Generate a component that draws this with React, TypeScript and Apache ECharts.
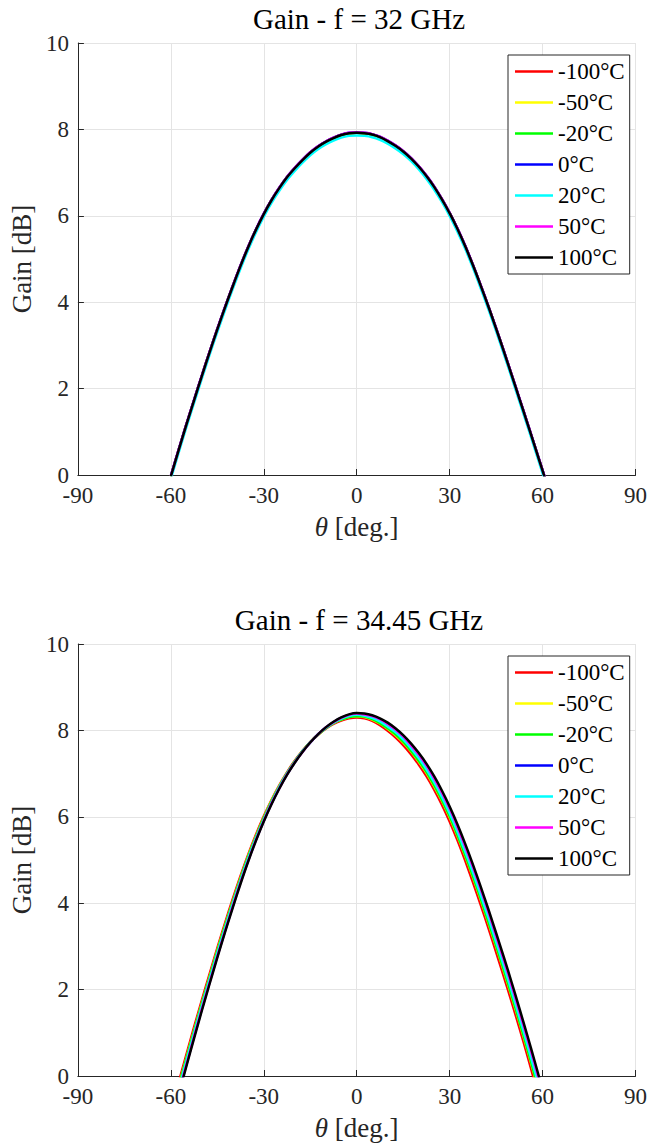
import React, { useEffect, useRef } from "react";
import * as echarts from "echarts";

// theta grid: -60 .. 65 deg, every 2.5 deg
const THETA = [-60, -57.5, -55, -52.5, -50, -47.5, -45, -42.5, -40, -37.5, -35, -32.5, -30, -27.5, -25, -22.5, -20, -17.5, -15, -12.5, -10, -7.5, -5, -2.5, 0, 2.5, 5, 7.5, 10, 12.5, 15, 17.5, 20, 22.5, 25, 27.5, 30, 32.5, 35, 37.5, 40, 42.5, 45, 47.5, 50, 52.5, 55, 57.5, 60, 62.5, 65];

const SERIES_NAMES = ["-100°C", "-50°C", "-20°C", "0°C", "20°C", "50°C", "100°C"];
const SERIES_COLORS = ["#ff0000", "#ffff00", "#00ff00", "#0000ff", "#00ffff", "#ff00ff", "#000000"];

const TITLES = ["Gain - f = 32 GHz", "Gain - f = 34.45 GHz"];
const X_TICKS = [-90, -60, -30, 0, 30, 60, 90];
const Y_TICKS = [0, 2, 4, 6, 8, 10];

// f = 32 GHz
const TOP_M100 = [-0.03, 0.57, 1.16, 1.73, 2.29, 2.84, 3.37, 3.88, 4.37, 4.84, 5.28, 5.68, 6.04, 6.36, 6.64, 6.89, 7.10, 7.29, 7.46, 7.60, 7.71, 7.80, 7.87, 7.91, 7.92, 7.91, 7.88, 7.82, 7.73, 7.62, 7.49, 7.33, 7.14, 6.92, 6.67, 6.38, 6.06, 5.70, 5.30, 4.86, 4.39, 3.90, 3.39, 2.86, 2.32, 1.77, 1.22, 0.66, 0.10, -0.47, -1.04];
const TOP_M50 = [-0.03, 0.57, 1.16, 1.73, 2.29, 2.84, 3.37, 3.88, 4.37, 4.84, 5.28, 5.68, 6.04, 6.36, 6.64, 6.89, 7.10, 7.29, 7.46, 7.60, 7.71, 7.80, 7.87, 7.91, 7.92, 7.91, 7.88, 7.82, 7.73, 7.62, 7.49, 7.33, 7.14, 6.92, 6.67, 6.38, 6.06, 5.70, 5.30, 4.86, 4.39, 3.90, 3.39, 2.86, 2.32, 1.77, 1.22, 0.66, 0.10, -0.47, -1.04];
const TOP_M20 = [-0.03, 0.57, 1.16, 1.73, 2.29, 2.84, 3.37, 3.88, 4.37, 4.84, 5.28, 5.68, 6.04, 6.36, 6.64, 6.89, 7.10, 7.29, 7.46, 7.60, 7.71, 7.80, 7.87, 7.91, 7.92, 7.91, 7.88, 7.82, 7.73, 7.62, 7.49, 7.33, 7.14, 6.92, 6.67, 6.38, 6.06, 5.70, 5.30, 4.86, 4.39, 3.90, 3.39, 2.86, 2.32, 1.77, 1.22, 0.66, 0.10, -0.47, -1.04];
const TOP_0 = [-0.02, 0.58, 1.17, 1.74, 2.30, 2.85, 3.38, 3.89, 4.38, 4.85, 5.29, 5.69, 6.05, 6.37, 6.65, 6.90, 7.11, 7.30, 7.47, 7.61, 7.72, 7.81, 7.88, 7.92, 7.93, 7.92, 7.89, 7.83, 7.74, 7.63, 7.50, 7.34, 7.15, 6.93, 6.68, 6.39, 6.07, 5.71, 5.31, 4.87, 4.40, 3.91, 3.40, 2.87, 2.33, 1.78, 1.23, 0.67, 0.11, -0.46, -1.03];
const TOP_20 = [-0.09, 0.51, 1.10, 1.67, 2.23, 2.78, 3.31, 3.82, 4.31, 4.78, 5.22, 5.62, 5.98, 6.30, 6.58, 6.83, 7.04, 7.23, 7.40, 7.54, 7.65, 7.74, 7.81, 7.85, 7.86, 7.85, 7.82, 7.76, 7.67, 7.56, 7.43, 7.27, 7.08, 6.86, 6.61, 6.32, 6.00, 5.64, 5.24, 4.80, 4.33, 3.84, 3.33, 2.80, 2.26, 1.71, 1.16, 0.60, 0.04, -0.53, -1.10];
const TOP_50 = [-0.02, 0.58, 1.17, 1.74, 2.30, 2.85, 3.38, 3.89, 4.38, 4.85, 5.29, 5.69, 6.05, 6.37, 6.65, 6.90, 7.11, 7.30, 7.47, 7.61, 7.72, 7.81, 7.88, 7.92, 7.93, 7.92, 7.89, 7.83, 7.74, 7.63, 7.50, 7.34, 7.15, 6.93, 6.68, 6.39, 6.07, 5.71, 5.31, 4.87, 4.40, 3.91, 3.40, 2.87, 2.33, 1.78, 1.23, 0.67, 0.11, -0.46, -1.03];
const TOP_100 = [-0.03, 0.57, 1.16, 1.73, 2.29, 2.84, 3.37, 3.88, 4.37, 4.84, 5.28, 5.68, 6.04, 6.36, 6.64, 6.89, 7.10, 7.29, 7.46, 7.60, 7.71, 7.80, 7.87, 7.91, 7.92, 7.91, 7.88, 7.82, 7.73, 7.62, 7.49, 7.33, 7.14, 6.92, 6.67, 6.38, 6.06, 5.70, 5.30, 4.86, 4.39, 3.90, 3.39, 2.86, 2.32, 1.77, 1.22, 0.66, 0.10, -0.47, -1.04];

// f = 34.45 GHz
const BOT_M100 = [-0.82, -0.16, 0.49, 1.13, 1.75, 2.36, 2.96, 3.54, 4.10, 4.63, 5.13, 5.59, 6.01, 6.39, 6.73, 7.03, 7.30, 7.53, 7.73, 7.90, 8.04, 8.15, 8.23, 8.28, 8.30, 8.28, 8.22, 8.12, 7.99, 7.84, 7.66, 7.45, 7.21, 6.94, 6.63, 6.28, 5.89, 5.46, 4.99, 4.49, 3.97, 3.43, 2.87, 2.30, 1.72, 1.12, 0.50, -0.15, -0.81, -1.49, -2.19];
const BOT_M50 = [-0.90, -0.24, 0.41, 1.05, 1.68, 2.29, 2.90, 3.48, 4.04, 4.58, 5.09, 5.55, 5.98, 6.37, 6.71, 7.01, 7.28, 7.52, 7.73, 7.90, 8.05, 8.17, 8.25, 8.31, 8.33, 8.31, 8.25, 8.16, 8.04, 7.89, 7.72, 7.52, 7.28, 7.02, 6.71, 6.37, 5.99, 5.56, 5.10, 4.61, 4.09, 3.55, 3.00, 2.43, 1.85, 1.25, 0.63, -0.01, -0.67, -1.35, -2.05];
const BOT_M20 = [-0.91, -0.25, 0.40, 1.04, 1.67, 2.28, 2.89, 3.47, 4.03, 4.57, 5.08, 5.54, 5.97, 6.36, 6.70, 7.01, 7.28, 7.52, 7.73, 7.90, 8.05, 8.17, 8.25, 8.31, 8.33, 8.32, 8.26, 8.17, 8.05, 7.91, 7.74, 7.53, 7.30, 7.04, 6.73, 6.39, 6.01, 5.58, 5.12, 4.63, 4.11, 3.57, 3.02, 2.45, 1.87, 1.27, 0.65, 0.01, -0.65, -1.33, -2.03];
const BOT_0 = [-1.04, -0.38, 0.27, 0.92, 1.56, 2.18, 2.78, 3.37, 3.94, 4.49, 5.00, 5.48, 5.91, 6.31, 6.67, 6.98, 7.26, 7.51, 7.72, 7.91, 8.06, 8.19, 8.29, 8.35, 8.38, 8.37, 8.32, 8.25, 8.14, 8.01, 7.84, 7.65, 7.43, 7.17, 6.88, 6.54, 6.17, 5.76, 5.30, 4.82, 4.31, 3.77, 3.22, 2.66, 2.08, 1.48, 0.87, 0.23, -0.42, -1.09, -1.79];
const BOT_20 = [-0.97, -0.31, 0.34, 0.99, 1.62, 2.23, 2.84, 3.42, 3.99, 4.53, 5.04, 5.51, 5.94, 6.33, 6.69, 7.00, 7.27, 7.51, 7.72, 7.91, 8.06, 8.18, 8.27, 8.33, 8.36, 8.34, 8.29, 8.21, 8.09, 7.96, 7.79, 7.59, 7.36, 7.10, 6.80, 6.46, 6.08, 5.66, 5.20, 4.72, 4.20, 3.67, 3.11, 2.55, 1.97, 1.37, 0.75, 0.11, -0.54, -1.21, -1.91];
const BOT_50 = [-1.06, -0.40, 0.26, 0.91, 1.55, 2.16, 2.77, 3.36, 3.93, 4.48, 4.99, 5.47, 5.91, 6.31, 6.66, 6.98, 7.26, 7.50, 7.72, 7.91, 8.07, 8.19, 8.29, 8.36, 8.39, 8.37, 8.33, 8.26, 8.15, 8.02, 7.86, 7.66, 7.44, 7.19, 6.89, 6.56, 6.19, 5.77, 5.32, 4.84, 4.33, 3.80, 3.24, 2.68, 2.10, 1.50, 0.89, 0.26, -0.39, -1.06, -1.76];
const BOT_100 = [-1.10, -0.44, 0.22, 0.87, 1.51, 2.13, 2.74, 3.33, 3.90, 4.45, 4.97, 5.45, 5.89, 6.29, 6.65, 6.97, 7.25, 7.50, 7.72, 7.91, 8.07, 8.20, 8.30, 8.37, 8.40, 8.39, 8.35, 8.28, 8.18, 8.05, 7.89, 7.70, 7.48, 7.23, 6.94, 6.61, 6.24, 5.83, 5.38, 4.90, 4.39, 3.86, 3.31, 2.75, 2.17, 1.57, 0.96, 0.33, -0.32, -0.99, -1.69];

const TOP_DATA = [TOP_M100, TOP_M50, TOP_M20, TOP_0, TOP_20, TOP_50, TOP_100];
const BOT_DATA = [BOT_M100, BOT_M50, BOT_M20, BOT_0, BOT_20, BOT_50, BOT_100];

const FONT = "'Liberation Serif', 'DejaVu Serif', serif";
const AX = "#262626";
const GRIDC = "#e4e4e4";

const PLOT_LEFT = 77;
const PLOT_W = 564;
const PLOT_H = 432;
const TOPS = [43, 644];

export default function App() {
  const ref = useRef<HTMLDivElement>(null);
  useEffect(() => {
    if (!ref.current) return;
    const chart = echarts.init(ref.current, undefined, { renderer: "svg" });

    const grids = TOPS.map((t) => ({ left: PLOT_LEFT, top: t, width: PLOT_W, height: PLOT_H, containLabel: false }));

    const xAxes = TOPS.map((_, i) => ({
      type: "value",
      gridIndex: i,
      min: X_TICKS[0],
      max: X_TICKS[X_TICKS.length - 1],
      interval: 30,
      name: "{i|θ} [deg.]",
      nameLocation: "middle",
      nameGap: 38,
      nameTextStyle: {
        fontFamily: FONT,
        fontSize: 27,
        color: AX,
        rich: { i: { fontFamily: FONT, fontSize: 27, fontStyle: "italic", color: AX } },
      },
      axisLine: { show: true, onZero: false, lineStyle: { color: AX, width: 1 } },
      axisTick: { show: true, inside: true, length: 6, lineStyle: { color: AX } },
      axisLabel: { fontFamily: FONT, fontSize: 23, color: AX, margin: 9 },
      splitLine: { show: true, lineStyle: { color: GRIDC, width: 1 } },
    }));

    const yAxes = TOPS.map((_, i) => ({
      type: "value",
      gridIndex: i,
      min: Y_TICKS[0],
      max: Y_TICKS[Y_TICKS.length - 1],
      interval: 2,
      name: "Gain [dB]",
      nameLocation: "middle",
      nameGap: 39,
      nameTextStyle: { fontFamily: FONT, fontSize: 27, color: AX },
      axisLine: { show: true, onZero: false, lineStyle: { color: AX, width: 1 } },
      axisTick: { show: true, inside: true, length: 6, lineStyle: { color: AX } },
      axisLabel: { fontFamily: FONT, fontSize: 23, color: AX, margin: 9 },
      splitLine: { show: true, lineStyle: { color: GRIDC, width: 1 } },
    }));

    const series: any[] = [];
    [TOP_DATA, BOT_DATA].forEach((set, gi) => {
      set.forEach((vals, si) => {
        series.push({
          type: "line",
          name: SERIES_NAMES[si],
          xAxisIndex: gi,
          yAxisIndex: gi,
          data: THETA.map((t, k) => [t, vals[k]]),
          smooth: 0.3,
          showSymbol: false,
          symbol: "none",
          clip: true,
          lineStyle: { color: SERIES_COLORS[si], width: 2.5 },
          itemStyle: { color: SERIES_COLORS[si] },
        });
      });
    });

    const legends = TOPS.map((t) => ({
      orient: "vertical",
      left: 508,
      top: t + 12,
      data: SERIES_NAMES,
      icon: "rect",
      itemWidth: 38,
      itemHeight: 2.5,
      itemGap: 8,
      padding: [5, 5, 5, 7],
      borderColor: AX,
      borderWidth: 1,
      backgroundColor: "#ffffff",
      selectedMode: false,
      textStyle: { fontFamily: FONT, fontSize: 23, lineHeight: 20, color: "#000" },
    }));

    chart.setOption({
      animation: false,
      backgroundColor: "#ffffff",
      grid: grids,
      xAxis: xAxes,
      yAxis: yAxes,
      legend: legends,
      series,
      graphic: TOPS.map((t, i) => ({
        type: "text",
        x: PLOT_LEFT + PLOT_W / 2,
        y: t - 24,
        style: {
          text: TITLES[i],
          textAlign: "center",
          textVerticalAlign: "middle",
          fontFamily: FONT,
          fontSize: 29,
          fill: "#000",
        },
      })),
    });
    return () => chart.dispose();
  }, []);
  return (
    <div
      ref={ref}
      style={{ position: "absolute", left: 0, top: 0, width: 650, height: 1148, background: "#fff" }}
    />
  );
}
